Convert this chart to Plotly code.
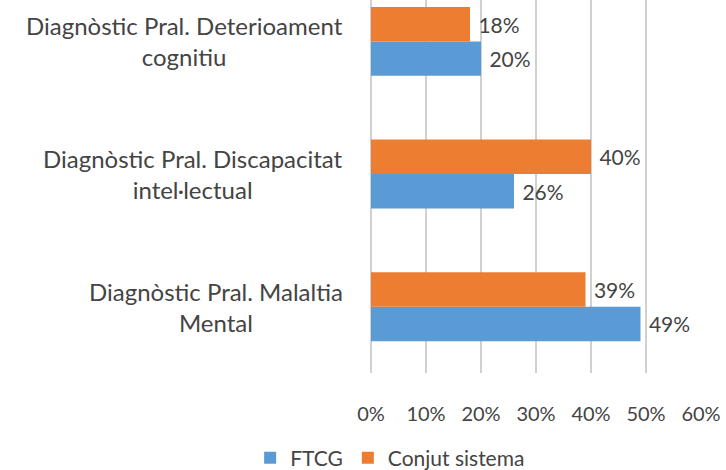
import plotly.graph_objects as go

categories = [
    "Diagnòstic Pral. Malaltia<br>Mental",
    "Diagnòstic Pral. Discapacitat<br>intel·lectual",
    "Diagnòstic Pral. Deterioament<br>cognitiu",
]
ftcg = [0.49, 0.26, 0.20]
conjunt = [0.39, 0.40, 0.18]
series_names = ["FTCG", "Conjut sistema"]
x_ticks = [0, 0.1, 0.2, 0.3, 0.4, 0.5, 0.6]
x_tick_labels = ["0%", "10%", "20%", "30%", "40%", "50%", "60%"]

BLUE = "#5B9BD5"
ORANGE = "#ED7D31"
TEXT = "#444444"
GRID = "#D0D0D0"
FONT = "Lato"

fig = go.Figure()
for name, vals, col in [(series_names[0], ftcg, BLUE), (series_names[1], conjunt, ORANGE)]:
    fig.add_trace(go.Bar(
        y=categories, x=vals, orientation="h", name=name,
        marker=dict(color=col, line=dict(width=0)),
        texttemplate="\u00a0%{x:.0%}", textposition="outside",
        textfont=dict(family=FONT, size=21, color=TEXT),
        cliponaxis=False,
    ))

for cat in categories:
    fig.add_annotation(
        x=0, xref="paper", y=cat, yref="y", text=cat,
        xanchor="right", yanchor="middle", align="center", xshift=-26,
        showarrow=False, font=dict(family=FONT, size=24, color=TEXT),
    )

fig.update_layout(
    width=726, height=470,
    margin=dict(l=371, r=25, t=0, b=97, pad=0, autoexpand=False),
    paper_bgcolor="white", plot_bgcolor="white",
    barmode="group", bargap=0.48, bargroupgap=0,
    font=dict(family=FONT, color=TEXT),
    showlegend=True,
    legend=dict(orientation="h", x=0.058, xanchor="center",
                y=(470 - 458) / 470, yref="container", yanchor="middle",
                font=dict(family=FONT, size=21, color=TEXT), traceorder="normal"),
)
fig.update_xaxes(
    range=[0, 0.6], tickvals=x_ticks, ticktext=x_tick_labels,
    showgrid=True, gridcolor=GRID, gridwidth=2,
    zeroline=True, zerolinecolor=GRID, zerolinewidth=2,
    showline=False, ticks="", ticklabelstandoff=27, automargin=False,
    tickfont=dict(family=FONT, size=20, color=TEXT),
)
fig.update_yaxes(
    type="category", categoryorder="array", categoryarray=categories,
    range=[-0.5, 2.312], showticklabels=False, showgrid=False,
    zeroline=False, showline=False, ticks="", automargin=False,
)

fig.write_html("out.html", config={"displayModeBar": False},
               post_script="document.body.style.margin='0';")
